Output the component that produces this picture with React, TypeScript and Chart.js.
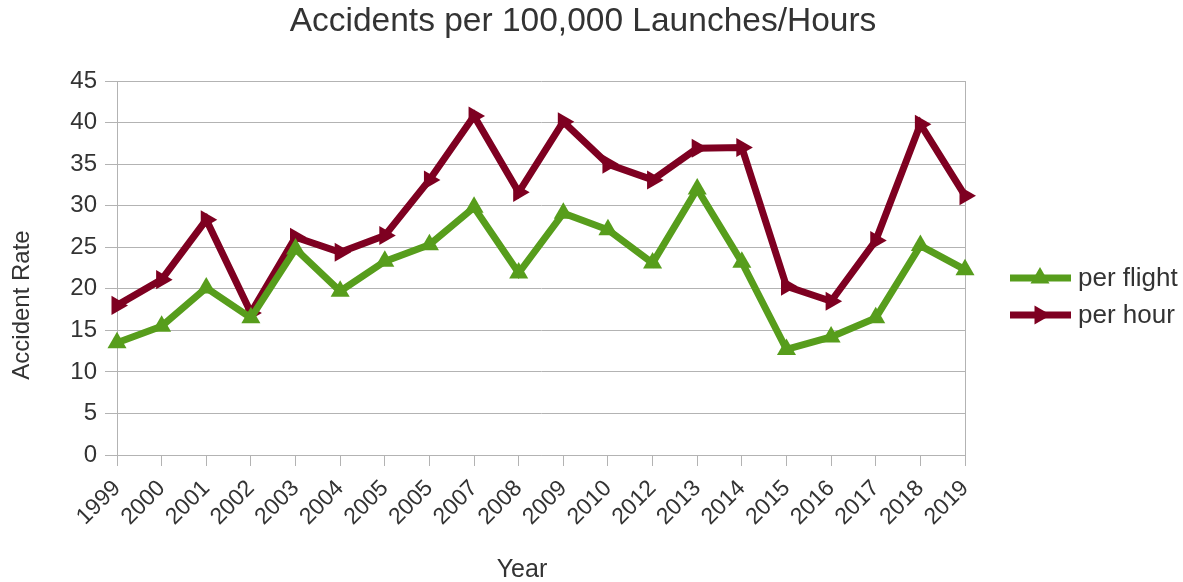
import React, { useEffect, useRef } from "react";
import { Chart, registerables } from "chart.js";

Chart.register(...registerables);

const years = ["1999", "2000", "2001", "2002", "2003", "2004", "2005", "2005", "2007", "2008", "2009", "2010", "2012", "2013", "2014", "2015", "2016", "2017", "2018", "2019"];
const perFlight = [13.5, 15.5, 20.1, 16.5, 24.8, 19.7, 23.3, 25.3, 29.8, 21.9, 29.1, 27.1, 23.1, 32.0, 23.2, 12.7, 14.2, 16.5, 25.2, 22.3];
const perHour = [18.0, 21.1, 28.3, 17.1, 26.2, 24.4, 26.4, 33.1, 40.8, 31.6, 40.1, 35.0, 33.1, 36.9, 37.0, 20.3, 18.5, 25.8, 39.8, 31.2];
const yTicks = [0, 5, 10, 15, 20, 25, 30, 35, 40, 45];

const titleText = "Accidents per 100,000 Launches/Hours";
const xTitle = "Year";
const yTitle = "Accident Rate";

const GREEN = "#579d1c";
const RED = "#7e0021";
const TEXT = "#333333";
const GRID = "#b3b3b3";
const FONT = "'Liberation Sans', Arial, sans-serif";

function tri(ctx: CanvasRenderingContext2D, x: number, y: number, r: number, rotDeg: number) {
  let rad = (rotDeg * Math.PI) / 180;
  ctx.beginPath();
  ctx.moveTo(x + Math.sin(rad) * r, y - Math.cos(rad) * r);
  rad += (2 * Math.PI) / 3;
  ctx.lineTo(x + Math.sin(rad) * r, y - Math.cos(rad) * r);
  rad += (2 * Math.PI) / 3;
  ctx.lineTo(x + Math.sin(rad) * r, y - Math.cos(rad) * r);
  ctx.closePath();
  ctx.fill();
}

const decorPlugin = {
  id: "decor",
  beforeDatasetsDraw(chart: any) {
    const { ctx, chartArea } = chart;
    ctx.save();
    ctx.strokeStyle = GRID;
    ctx.lineWidth = 1;
    ctx.beginPath();
    ctx.moveTo(Math.round(chartArea.right) + 0.5, chartArea.top);
    ctx.lineTo(Math.round(chartArea.right) + 0.5, chartArea.bottom);
    ctx.stroke();
    ctx.restore();
  },
  afterDraw(chart: any) {
    const { ctx } = chart;
    ctx.save();
    ctx.fillStyle = TEXT;
    ctx.textBaseline = "middle";
    ctx.textAlign = "center";
    ctx.font = `33.5px ${FONT}`;
    ctx.fillText(titleText, 583, 22);
    ctx.font = `25px ${FONT}`;
    ctx.fillText(xTitle, 522, 570);
    ctx.save();
    ctx.font = `24px ${FONT}`;
    ctx.translate(22, 305);
    ctx.rotate(-Math.PI / 2);
    ctx.fillText(yTitle, 0, 0);
    ctx.restore();

    // legend
    const items = chart.data.datasets.map((d: any) => ({
      label: d.label,
      color: d.borderColor,
      rot: d.pointRotation || 0,
    }));
    const ys = [278, 315];
    items.forEach((it: any, i: number) => {
      const y = ys[i];
      ctx.strokeStyle = it.color;
      ctx.lineWidth = 7;
      ctx.beginPath();
      ctx.moveTo(1010, y);
      ctx.lineTo(1071, y);
      ctx.stroke();
      ctx.fillStyle = it.color;
      tri(ctx, 1040, y, 11, it.rot);
      ctx.fillStyle = TEXT;
      ctx.textAlign = "left";
      ctx.font = `26px ${FONT}`;
      ctx.fillText(it.label, 1078, y + 1);
    });
    ctx.restore();
  },
};

export default function App() {
  const ref = useRef<HTMLCanvasElement | null>(null);
  useEffect(() => {
    document.body.style.margin = "0";
    const canvas = ref.current!;
    const chart = new Chart(canvas, {
      type: "line",
      data: {
        labels: years,
        datasets: [
          {
            label: "per flight",
            data: perFlight,
            borderColor: GREEN,
            backgroundColor: GREEN,
            borderWidth: 7,
            pointStyle: "triangle",
            pointRadius: 11,
            pointBorderWidth: 0,
            pointBackgroundColor: GREEN,
            tension: 0,
          },
          {
            label: "per hour",
            data: perHour,
            borderColor: RED,
            backgroundColor: RED,
            borderWidth: 7,
            pointStyle: "triangle",
            pointRotation: 90,
            pointRadius: 11,
            pointBorderWidth: 0,
            pointBackgroundColor: RED,
            tension: 0,
          },
        ],
      },
      options: {
        responsive: false,
        animation: false,
        layout: { padding: { top: 81, right: 218, left: 0, bottom: 0 } },
        plugins: {
          legend: { display: false },
          title: { display: false },
          tooltip: { enabled: false },
        },
        scales: {
          x: {
            type: "category",
            offset: false,
            grid: { drawOnChartArea: false, drawTicks: true, tickLength: 11, color: GRID },
            border: { color: GRID },
            ticks: {
              autoSkip: false,
              maxRotation: 45,
              minRotation: 45,
              padding: 9,
              color: TEXT,
              font: { family: FONT, size: 23 },
            },
            afterFit: (s: any) => {
              s.height = 127;
            },
          },
          y: {
            min: 0,
            max: 45,
            afterBuildTicks: (s: any) => {
              s.ticks = yTicks.map((v) => ({ value: v }));
            },
            grid: { color: GRID, tickLength: 12 },
            border: { color: GRID },
            ticks: {
              padding: 8,
              color: TEXT,
              font: { family: FONT, size: 24 },
            },
            afterFit: (s: any) => {
              s.width = 117;
            },
          },
        },
      },
      plugins: [decorPlugin],
    });
    return () => chart.destroy();
  }, []);
  return (
    <div style={{ width: 1183, height: 582 }}>
      <canvas ref={ref} width={1183} height={582} style={{ display: "block" }} />
    </div>
  );
}
